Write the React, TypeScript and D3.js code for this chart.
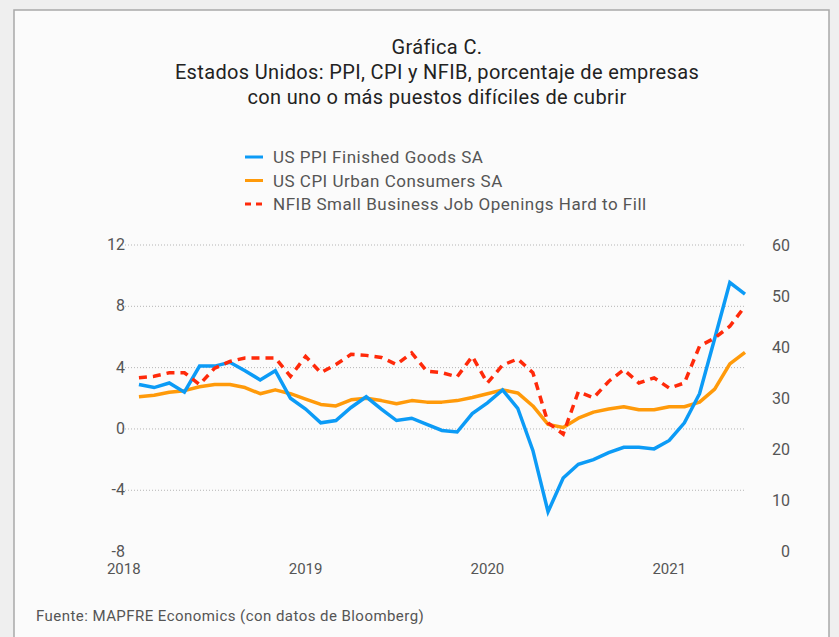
import React from "react";
import * as d3 from "d3";

const startMonth = 1; // Feb 2018 (0 = Jan 2018)
const ppi = [2.9, 2.7, 3.0, 2.4, 4.1, 4.1, 4.35, 3.8, 3.2, 3.8, 2.0, 1.3, 0.4, 0.55, 1.4, 2.1, 1.3, 0.55, 0.7, 0.3, -0.1, -0.2, 1.0, 1.7, 2.55, 1.35, -1.4, -5.4, -3.2, -2.3, -2.0, -1.55, -1.2, -1.2, -1.3, -0.75, 0.4, 2.3, 5.9, 9.55, 8.8];
const cpi = [2.1, 2.2, 2.4, 2.5, 2.75, 2.9, 2.9, 2.7, 2.3, 2.55, 2.3, 1.95, 1.6, 1.5, 1.9, 2.0, 1.85, 1.65, 1.85, 1.75, 1.75, 1.85, 2.05, 2.3, 2.55, 2.35, 1.5, 0.3, 0.1, 0.7, 1.1, 1.3, 1.45, 1.25, 1.25, 1.45, 1.45, 1.75, 2.6, 4.25, 5.0];
const nfib = [34.0, 34.3, 35.0, 35.0, 32.7, 35.9, 37.2, 37.9, 37.9, 37.9, 34.3, 38.2, 35.0, 36.6, 38.6, 38.4, 38.0, 36.6, 38.9, 35.3, 35.0, 34.2, 38.2, 33.0, 36.5, 37.7, 35.0, 25.2, 23.0, 31.3, 30.1, 33.3, 35.6, 33.0, 34.0, 32.0, 33.0, 40.2, 41.8, 44.1, 48.0];
const leftTicks = [12, 8, 4, 0, -4, -8];
const rightTicks = [60, 50, 40, 30, 20, 10, 0];
const yearLabels = ["2018", "2019", "2020", "2021"];
const titleLines = [
  "Gráfica C.",
  "Estados Unidos: PPI, CPI y NFIB, porcentaje de empresas",
  "con uno o más puestos difíciles de cubrir",
];
const legendLabels = [
  "US PPI Finished Goods SA",
  "US CPI Urban Consumers SA",
  "NFIB Small Business Job Openings Hard to Fill",
];
const source = "Fuente: MAPFRE Economics (con datos de Bloomberg)";

const BLUE = "#0c9bf6";
const ORANGE = "#ff9a0a";
const RED = "#ff2a0a";
const TEXT = "#555555";
const FONT = "Roboto, 'Noto Sans', sans-serif";

export default function App() {
  const W = 839;
  const H = 637;
  const x = d3.scaleLinear().domain([0, 41]).range([123.8, 745]);
  const yL = d3.scaleLinear().domain([-8, 12]).range([551.6, 245]);
  const yR = d3.scaleLinear().domain([0, 60]).range([551.6, 245]);

  const lineL = d3
    .line<number>()
    .x((_, i) => x(i + startMonth))
    .y((d) => yL(d));
  const lineR = d3
    .line<number>()
    .x((_, i) => x(i + startMonth))
    .y((d) => yR(d));

  const legendColors = [BLUE, ORANGE, RED];

  return (
    <svg
      width={W}
      height={H}
      style={{ position: "absolute", left: 0, top: 0, display: "block" }}
      fontFamily={FONT}
    >
      <rect x={0} y={0} width={W} height={H} fill="#efefef" />
      <rect x={14} y={10} width={815} height={H} fill="#fbfbfb" stroke="#a9a9a9" strokeWidth={1.5} />

      {titleLines.map((t, i) => (
        <text
          key={i}
          x={437}
          y={54 + i * 25}
          textAnchor="middle"
          fontSize={20}
          letterSpacing={0.35}
          fill="#222"
        >
          {t}
        </text>
      ))}

      {legendLabels.map((t, i) => (
        <g key={i} transform={`translate(0, ${157 + i * 23.5})`}>
          <line
            x1={245}
            x2={263}
            y1={0}
            y2={0}
            stroke={legendColors[i]}
            strokeWidth={3}
            strokeDasharray={i === 2 ? "6,5" : undefined}
          />
          <text x={273} y={6} fontSize={17} letterSpacing={0.5} fill={TEXT}>
            {t}
          </text>
        </g>
      ))}

      {leftTicks.map((t) =>
        t === -8 ? null : (
          <line
            key={"g" + t}
            x1={122}
            x2={745}
            y1={yL(t)}
            y2={yL(t)}
            stroke="#b5b5b5"
            strokeWidth={1}
            strokeDasharray="1,2"
          />
        )
      )}

      {leftTicks.map((t) => (
        <text key={"l" + t} x={125} y={yL(t) + 5} textAnchor="end" fontSize={16} fill={TEXT}>
          {t}
        </text>
      ))}
      {rightTicks.map((t) => (
        <text key={"r" + t} x={790} y={yR(t) + 5.5} textAnchor="end" fontSize={16} fill={TEXT}>
          {t}
        </text>
      ))}
      {yearLabels.map((t, i) => (
        <text key={t} x={x(i * 12)} y={574} textAnchor="middle" fontSize={15} fill={TEXT}>
          {t}
        </text>
      ))}

      <path d={lineL(cpi) || ""} fill="none" stroke={ORANGE} strokeWidth={3.5} strokeLinejoin="round" />
      <path d={lineL(ppi) || ""} fill="none" stroke={BLUE} strokeWidth={3.5} strokeLinejoin="miter" />
      <path d={lineR(nfib) || ""} fill="none" stroke={RED} strokeWidth={3.5} strokeDasharray="8,6" />

      <text x={36} y={621} fontSize={15} letterSpacing={0.45} fill={TEXT}>
        {source}
      </text>
    </svg>
  );
}
